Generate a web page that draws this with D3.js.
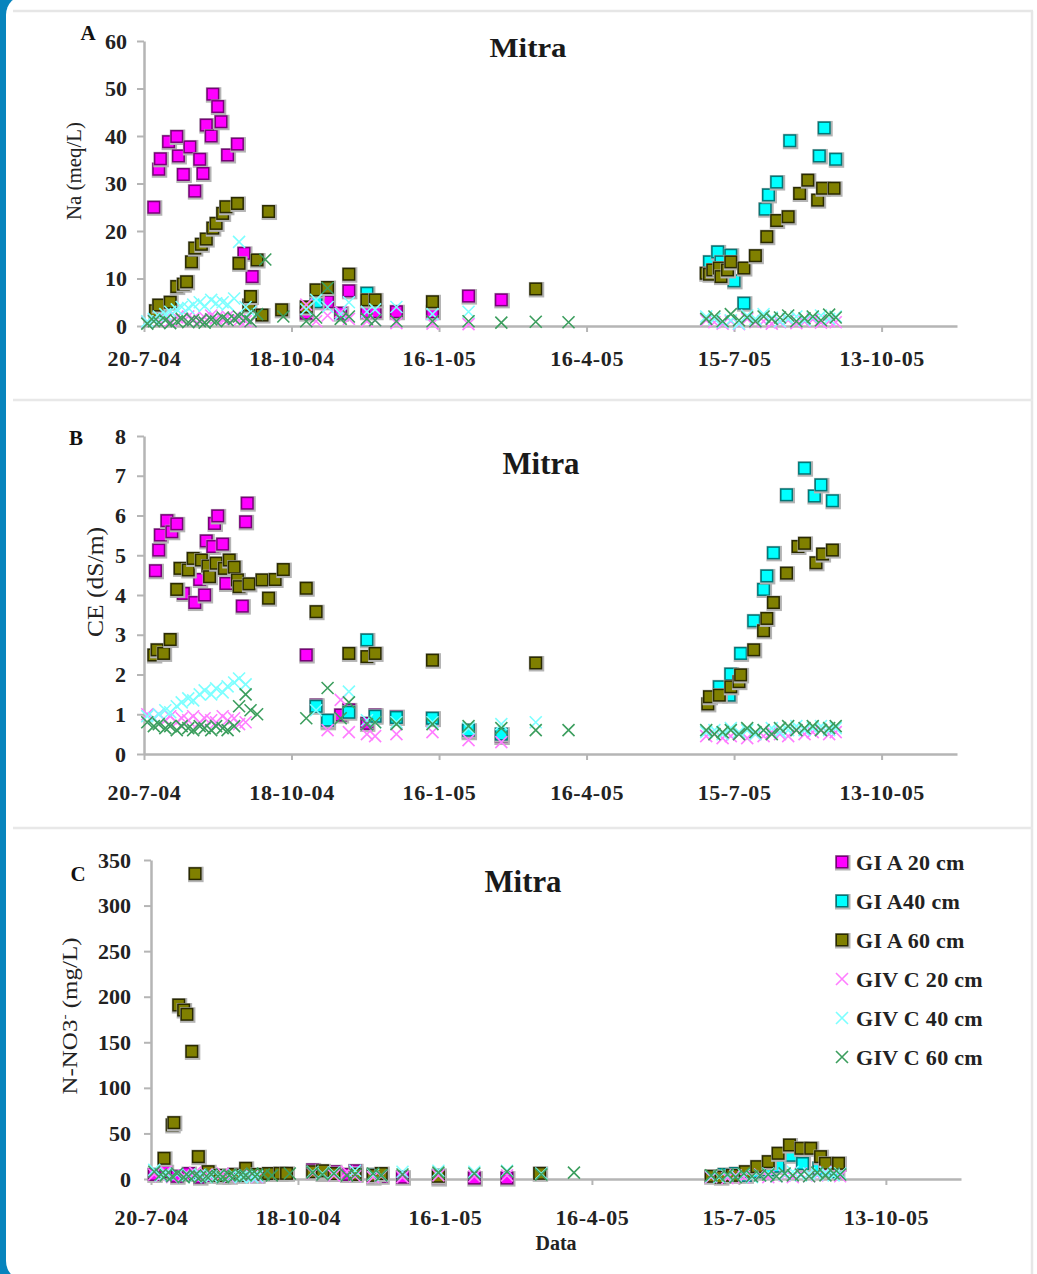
<!DOCTYPE html>
<html>
<head>
<meta charset="utf-8">
<script src="https://cdn.jsdelivr.net/npm/d3@7"></script>
<style>
body { margin: 0; background: #fff; }
svg text { font-family: "Liberation Serif", "Times New Roman", serif; }
</style>
</head>
<body>
<div id="chart"></div>
<script>
// Date axis tick labels (every 90 days) and the end of the axis
const dateTicks = ["20-7-04", "18-10-04", "16-1-05", "16-4-05", "15-7-05", "13-10-05"];
const dateEnd = "28-11-05";

const seriesNames = ["GI A 20 cm", "GI A40 cm", "GI A 60 cm", "GIV C 20 cm", "GIV C 40 cm", "GIV C 60 cm"];

// Sampling dates used by the GIV C (cross) series
const xDates = [
  "22-7-04","26-7-04","29-7-04","2-8-04","5-8-04","9-8-04","12-8-04","16-8-04","19-8-04","23-8-04","26-8-04",
  "30-8-04","2-9-04","6-9-04","9-9-04","13-9-04","16-9-04","20-9-04","23-9-04","27-9-04","2-10-04","13-10-04",
  "27-10-04","2-11-04","9-11-04","17-11-04","22-11-04","3-12-04","8-12-04","21-12-04","12-1-05","3-2-05","23-2-05","16-3-05","5-4-05",
  "28-6-05","3-7-05","8-7-05","13-7-05","18-7-05","23-7-05","28-7-05","2-8-05","7-8-05","12-8-05","17-8-05","22-8-05","27-8-05","1-9-05","6-9-05","11-9-05","15-9-05"
];

// ---- A: Na (meq/L)
const naGIA20 = [["26-7-04",25.0],["29-7-04",33.0],["30-7-04",35.2],["4-8-04",38.8],["9-8-04",39.9],["10-8-04",35.8],["13-8-04",31.9],["17-8-04",37.7],["20-8-04",28.4],["23-8-04",35.1],["25-8-04",32.1],["27-8-04",42.3],["30-8-04",40.0],["31-8-04",48.8],["3-9-04",46.2],["5-9-04",43.0],["9-9-04",36.0],["15-9-04",38.3],["19-9-04",15.3],["24-9-04",10.4],
  ["27-10-04",2.7],["9-11-04",5.1],["17-11-04",2.7],["22-11-04",7.4],["3-12-04",3.0],["8-12-04",3.0],["21-12-04",3.0],["12-1-05",3.0],["3-2-05",6.3],["23-2-05",5.5]];
const naGIA40 = [["2-11-04",5.1],["3-12-04",6.9],
  ["30-6-05",13.5],["5-7-05",15.6],["7-7-05",13.5],["13-7-05",14.9],["15-7-05",9.5],["21-7-05",4.8],["3-8-05",24.6],["5-8-05",27.6],["10-8-05",30.3],["18-8-05",39.0],["5-9-05",35.8],["8-9-05",41.7],["15-9-05",35.1]];
const naGIA60 = [["27-7-04",3.2],["29-7-04",4.4],["5-8-04",5.0],["9-8-04",8.3],["13-8-04",8.8],["15-8-04",9.3],["18-8-04",13.5],["20-8-04",16.4],["24-8-04",17.2],["27-8-04",18.3],["31-8-04",20.6],["2-9-04",21.6],["6-9-04",23.7],["8-9-04",25.1],["15-9-04",25.8],["16-9-04",13.2],["22-9-04",4.4],["23-9-04",6.2],["27-9-04",13.9],["30-9-04",2.3],["4-10-04",24.1],["12-10-04",3.4],
  ["27-10-04",4.0],["2-11-04",7.6],["9-11-04",8.1],["22-11-04",10.9],["3-12-04",5.5],["8-12-04",5.5],["12-1-05",5.1],["16-3-05",7.8],
  ["28-6-05",11.1],["30-6-05",10.9],["2-7-05",11.8],["6-7-05",12.2],["7-7-05",10.4],["11-7-05",11.8],["13-7-05",13.5],["21-7-05",12.2],["28-7-05",14.8],["4-8-05",18.8],["10-8-05",22.2],["17-8-05",23.0],["24-8-05",27.9],["29-8-05",30.7],["4-9-05",26.5],["7-9-05",29.0],["14-9-05",29.0]];
const naGIVC20 = [0.8,1.2,0.9,1.5,1.0,1.8,1.3,2.0,1.5,1.2,1.8,2.2,1.6,1.4,2.0,1.7,1.2,1.0,0.9,null,null,null,
  4.5,1.0,2.2,3.0,1.5,1.0,1.2,0.6,0.5,0.4,null,null,null,
  1.2,0.8,0.5,1.0,0.4,1.5,0.8,1.0,0.5,0.8,1.2,0.6,0.9,1.4,0.7,1.0,0.8];
const naGIVC40 = [1.0,1.5,2.0,2.5,3.0,3.5,4.0,3.8,4.5,5.0,4.2,5.5,4.8,5.0,4.5,5.8,17.7,4.0,3.0,null,null,null,
  3.5,5.5,4.0,2.5,5.0,3.0,3.5,4.0,2.5,3.0,null,null,null,
  2.0,1.5,0.8,1.2,0.5,2.2,1.5,2.5,1.8,1.0,1.5,2.0,1.2,1.8,2.2,1.5,2.0];
const naGIVC60 = [0.5,1.0,0.8,1.2,0.6,1.0,1.5,0.8,1.2,1.0,0.7,1.4,1.0,1.8,1.2,1.5,2.0,1.6,1.0,2.5,14.0,2.0,
  1.0,1.8,8.0,1.5,2.0,1.5,1.2,1.0,1.0,1.0,0.7,0.9,0.8,
  1.5,2.0,1.0,2.5,1.2,1.8,1.0,2.0,1.5,1.8,2.2,1.0,1.6,2.0,1.2,2.4,1.8];

// ---- B: CE (dS/m)
const ceGIA20 = [["27-7-04",4.61],["29-7-04",5.13],["30-7-04",5.51],["3-8-04",5.87],["6-8-04",5.59],["9-8-04",5.79],["13-8-04",4.04],["20-8-04",3.81],["23-8-04",4.39],["26-8-04",4.0],["27-8-04",5.36],["31-8-04",5.22],["1-9-04",5.8],["3-9-04",5.99],["6-9-04",5.28],["8-9-04",4.29],["18-9-04",3.72],["20-9-04",5.84],["21-9-04",6.31],
  ["27-10-04",2.49],["2-11-04",1.23],["9-11-04",0.81],["17-11-04",0.98],["22-11-04",1.11],["3-12-04",0.77],["8-12-04",0.98],["21-12-04",0.94],["12-1-05",0.89],["3-2-05",0.56],["23-2-05",0.44]];
const ceGIA40 = [["2-11-04",1.2],["9-11-04",0.85],["22-11-04",1.05],["3-12-04",2.87],["8-12-04",0.95],["21-12-04",0.92],["12-1-05",0.9],["3-2-05",0.6],["23-2-05",0.5],
  ["6-7-05",1.69],["12-7-05",1.48],["13-7-05",2.01],["19-7-05",2.53],["27-7-05",3.35],["2-8-05",4.14],["4-8-05",4.48],["8-8-05",5.06],["16-8-05",6.52],["27-8-05",7.19],["2-9-05",6.49],["6-9-05",6.77],["13-9-05",6.37]];
const ceGIA60 = [["26-7-04",2.49],["28-7-04",2.62],["1-8-04",2.53],["5-8-04",2.88],["9-8-04",4.14],["11-8-04",4.67],["16-8-04",4.63],["19-8-04",4.92],["24-8-04",4.88],["28-8-04",4.73],["29-8-04",4.46],["2-9-04",4.8],["7-9-04",4.67],["10-9-04",4.88],["13-9-04",4.7],["15-9-04",4.38],["16-9-04",4.21],["22-9-04",4.28],["30-9-04",4.38],["4-10-04",3.92],["8-10-04",4.39],["13-10-04",4.64],
  ["27-10-04",4.17],["2-11-04",3.58],["22-11-04",2.53],["3-12-04",2.45],["8-12-04",2.53],["12-1-05",2.36],["16-3-05",2.29],
  ["29-6-05",1.26],["30-6-05",1.44],["6-7-05",1.48],["13-7-05",1.69],["18-7-05",1.82],["19-7-05",1.99],["27-7-05",2.62],["2-8-05",3.1],["4-8-05",3.41],["8-8-05",3.81],["16-8-05",4.55],["23-8-05",5.22],["27-8-05",5.3],["3-9-05",4.81],["7-9-05",5.03],["13-9-05",5.13]];
const ceGIVC20 = [1.0,0.9,1.0,0.85,0.95,0.8,0.9,0.85,0.95,0.8,0.9,0.85,0.8,0.95,0.85,0.9,0.75,0.8,null,null,null,null,
  null,null,0.6,1.36,0.55,0.5,0.45,0.5,0.55,0.35,0.3,null,null,
  0.45,0.5,0.4,0.45,0.5,0.4,0.5,0.45,0.55,0.5,0.45,0.6,0.5,0.55,0.6,0.5,0.55];
const ceGIVC40 = [0.95,0.9,1.0,1.1,1.05,1.2,1.3,1.4,1.35,1.5,1.6,1.5,1.65,1.55,1.7,1.8,1.9,1.75,null,null,null,null,
  null,1.1,null,null,1.57,0.85,0.8,0.8,0.8,0.65,0.75,0.8,null,
  0.55,0.6,0.5,0.65,0.55,0.6,0.5,0.6,0.65,0.55,0.6,0.7,0.6,0.65,0.7,0.6,0.65];
const ceGIVC60 = [0.8,0.7,0.75,0.65,0.7,0.6,0.7,0.65,0.6,0.7,0.65,0.6,0.7,0.65,0.6,0.7,1.2,1.5,1.1,1.0,null,null,
  0.9,null,1.66,0.9,1.3,0.75,0.8,0.75,0.75,0.7,0.65,0.6,0.6,
  0.6,0.5,0.55,0.6,0.5,0.65,0.55,0.6,0.5,0.65,0.7,0.6,0.65,0.7,0.6,0.65,0.7];

// ---- C: N-NO3 (mg/L)
const noGIA20 = [["22-7-04",5],["29-7-04",8],["5-8-04",3],["12-8-04",6],["19-8-04",2],["26-8-04",4],["2-9-04",3],["9-9-04",5],["16-9-04",7],["23-9-04",4],
  ["27-10-04",10],["2-11-04",6],["9-11-04",8],["17-11-04",5],["22-11-04",9],["3-12-04",2],["8-12-04",3],["21-12-04",2],["12-1-05",1],["3-2-05",1],["23-2-05",1]];
const noGIA40 = [["2-11-04",8],["22-11-04",6],["3-12-04",5],["12-1-05",4],
  ["6-7-05",5],["13-7-05",6],["19-7-05",4],["27-7-05",8],["2-8-05",10],["8-8-05",14],["16-8-05",26],["23-8-05",17],["2-9-05",12],["6-9-05",10],["13-9-05",8]];
const noGIA60 = [["28-7-04",22.7],["2-8-04",59.3],["3-8-04",61.8],["6-8-04",190.9],["9-8-04",185.4],["11-8-04",180.7],["14-8-04",140],["16-8-04",335],["18-8-04",24.5],["24-8-04",8],["31-8-04",4],["6-9-04",3],["9-9-04",5],["13-9-04",4],["16-9-04",11.7],["23-9-04",5],["30-9-04",6],["7-10-04",6.2],["11-10-04",6.2],
  ["27-10-04",8],["2-11-04",9],["9-11-04",6],["22-11-04",5],["3-12-04",4],["8-12-04",6],["12-1-05",3],["15-3-05",6.2],
  ["28-6-05",3],["4-7-05",2],["11-7-05",4],["19-7-05",8],["26-7-05",13.5],["2-8-05",19],["8-8-05",28.2],["15-8-05",37.3],["22-8-05",33.7],["28-8-05",33.7],["3-9-05",24.5],["6-9-05",17.2],["14-9-05",17.2]];
const noGIVC20 = [5,3,8,2,6,4,3,7,2,5,3,4,6,2,3,5,4,3,2,null,null,null,
  6,null,4,8,3,2,3,2,4,3,4,null,null,
  2,3,1,4,2,3,5,2,3,4,2,6,3,4,8,5,3];
const noGIVC40 = [10,4,6,3,5,2,4,3,5,2,3,4,2,3,4,2,3,2,3,null,null,null,
  8,6,7,null,9,5,4,8,9,8,9,6,null,
  3,2,4,3,5,2,4,6,3,5,8,4,6,5,7,4,6];
const noGIVC60 = [8,5,4,3,6,2,3,4,2,3,5,3,2,4,3,5,4,6,5,5,4,6,
  7,5,6,4,5,6,4,5,7,6,8,5,7,
  4,3,5,2,6,3,4,5,3,6,4,5,3,7,4,6,5];

const parse = d3.timeParse("%d-%m-%y");

// marker look of each series, same order as seriesNames
const styles = [
  { type: "square", fill: "#ff00ff", stroke: "#7a007a" },
  { type: "square", fill: "#00ffff", stroke: "#007878" },
  { type: "square", fill: "#808000", stroke: "#2a2a00" },
  { type: "cross", stroke: "#ff7dff" },
  { type: "cross", stroke: "#7dffff" },
  { type: "cross", stroke: "#3c9e5e" }
];

const svg = d3.select("#chart").append("svg")
  .attr("width", 1037).attr("height", 1274);

// page frame: blue strip at left, white card with rounded corners
svg.append("rect").attr("x", 0).attr("y", 0).attr("width", 60).attr("height", 1274).attr("fill", "#0784bd");
svg.append("rect").attr("x", 6).attr("y", -5).attr("width", 1100).attr("height", 1286).attr("rx", 20).attr("fill", "#fff");
svg.append("line").attr("x1", 13).attr("x2", 1033).attr("y1", 11).attr("y2", 11).attr("stroke", "#e6e6e6").attr("stroke-width", 2.5);
svg.append("line").attr("x1", 1032).attr("x2", 1032).attr("y1", 11).attr("y2", 1274).attr("stroke", "#e6e6e6").attr("stroke-width", 2.5);
[400, 828].forEach(yy => {
  svg.append("line").attr("x1", 13).attr("x2", 1033).attr("y1", yy).attr("y2", yy).attr("stroke", "#e8e8e8").attr("stroke-width", 2.5);
});

function toPoints(pairs) {
  return pairs.map(p => ({ date: parse(p[0]), value: p[1] }));
}
function gridPoints(values) {
  return values.map((v, i) => ({ date: parse(xDates[i]), value: v })).filter(d => d.value != null);
}

const panels = [
  { letter: "A", lx: 88, ly: 40, series: [naGIA20, naGIA40, naGIA60, naGIVC20, naGIVC40, naGIVC60],
    yMax: 60, yStep: 10, left: 144, right: 957, bottom: 326, top: 41, labelPad: 18, yPad: 10,
    title: { x: 528, y: 57, size: 27 }, ylab: { text: "Na (meq/L)", x: 74, y: 171, len: 98, size: 20 } },
  { letter: "B", lx: 76, ly: 445, series: [ceGIA20, ceGIA40, ceGIA60, ceGIVC20, ceGIVC40, ceGIVC60],
    yMax: 8, yStep: 1, left: 144, right: 957, bottom: 754, top: 436, labelPad: 24, yPad: 11,
    title: { x: 541, y: 474, size: 32 }, ylab: { text: "CE (dS/m)", x: 95, y: 582, len: 110, size: 23 } },
  { letter: "C", lx: 78, ly: 881, series: [noGIA20, noGIA40, noGIA60, noGIVC20, noGIVC40, noGIVC60],
    yMax: 350, yStep: 50, left: 151, right: 961, bottom: 1179, top: 860, labelPad: 24, yPad: 13,
    title: { x: 523, y: 892, size: 32 }, ylab: { text: "N-NO3", x: 70, y: 1016, len: 157, size: 21 } }
];

function drawMarker(g, st, cx, cy) {
  if (st.type === "square") {
    const s = 13;
    g.append("rect").attr("x", cx - s / 2 - 0.5).attr("y", cy - s / 2 - 0.5)
      .attr("width", s + 2.5).attr("height", s + 2.5).attr("fill", "#b4b4b4");
    g.append("rect").attr("x", cx - s / 2 + 0.75).attr("y", cy - s / 2 + 0.75)
      .attr("width", s - 1.5).attr("height", s - 1.5)
      .attr("fill", st.fill).attr("stroke", st.stroke).attr("stroke-width", 1.5);
  } else {
    const h = 6;
    g.append("path")
      .attr("d", `M${cx - h},${cy - h}L${cx + h},${cy + h}M${cx - h},${cy + h}L${cx + h},${cy - h}`)
      .attr("stroke", st.stroke).attr("stroke-width", 1.6).attr("fill", "none");
  }
}

panels.forEach((p, pi) => {
  const x = d3.scaleTime().domain([parse(dateTicks[0]), parse(dateEnd)]).range([p.left, p.right]);
  const y = d3.scaleLinear().domain([0, p.yMax]).range([p.bottom, p.top]);
  const g = svg.append("g");

  // y axis
  const yAxis = d3.axisLeft(y)
    .tickValues(d3.range(0, p.yMax + p.yStep / 2, p.yStep))
    .tickFormat(d3.format("d"))
    .tickSize(7).tickSizeOuter(0).tickPadding(p.yPad);
  const ya = g.append("g").attr("transform", `translate(${p.left},0)`).call(yAxis);

  // x axis
  const xAxis = d3.axisBottom(x)
    .tickValues(dateTicks.map(parse))
    .tickFormat((d, i) => dateTicks[i])
    .tickSize(6).tickSizeOuter(0).tickPadding(p.labelPad);
  const xa = g.append("g").attr("transform", `translate(0,${y(0)})`).call(xAxis);

  [ya, xa].forEach(a => {
    a.select(".domain").attr("stroke", "#b5b5b5").attr("stroke-width", 2.5);
    a.selectAll(".tick line").attr("stroke", "#b5b5b5").attr("stroke-width", 2);
    a.selectAll("text").attr("fill", "#222").attr("font-size", 22).attr("font-weight", "bold")
      .attr("font-family", "'Liberation Serif', 'Times New Roman', serif");
  });
  xa.selectAll("text").attr("letter-spacing", 0.6);

  // points, Excel series order
  p.series.forEach((s, si) => {
    const pts = si < 3 ? toPoints(s) : gridPoints(s);
    const sg = g.append("g");
    pts.forEach(d => drawMarker(sg, styles[si], x(d.date), y(d.value)));
  });

  // panel letter
  g.append("text").attr("x", p.lx).attr("y", p.ly).attr("text-anchor", "middle")
    .attr("font-family", "'Liberation Sans', Arial, sans-serif").attr("font-weight", "bold")
    .attr("font-size", 21).attr("fill", "#111").text(p.letter);

  // title
  g.append("text").attr("x", p.title.x).attr("y", p.title.y).attr("text-anchor", "middle")
    .attr("font-size", p.title.size).attr("font-weight", "bold").attr("fill", "#1a1a1a")
    .attr("textLength", 77).attr("lengthAdjust", "spacingAndGlyphs").text("Mitra");

  // y axis title
  const yt = g.append("text")
    .attr("transform", `translate(${p.ylab.x},${p.ylab.y}) rotate(-90)`)
    .attr("dy", "0.35em").attr("text-anchor", "middle")
    .attr("font-size", p.ylab.size).attr("fill", "#222")
    .attr("textLength", p.ylab.len).attr("lengthAdjust", "spacingAndGlyphs");
  if (pi === 2) {
    yt.append("tspan").text("N-NO3");
    yt.append("tspan").attr("dy", -8).attr("font-size", 13).text("-");
    yt.append("tspan").attr("dy", 8).text(" (mg/L)");
  } else {
    yt.text(p.ylab.text);
  }

  if (pi === 2) {
    // x axis title
    g.append("text").attr("x", 556).attr("y", 1250).attr("text-anchor", "middle")
      .attr("font-size", 20).attr("font-weight", "bold").attr("fill", "#222").text("Data");

    // legend
    const lg = g.append("g");
    seriesNames.forEach((name, i) => {
      const cy = 862 + i * 39;
      drawMarker(lg, styles[i], 842, cy);
      lg.append("text").attr("x", 856).attr("y", cy + 8)
        .attr("font-size", 22).attr("font-weight", "bold").attr("fill", "#222")
        .attr("letter-spacing", 0.3).text(name);
    });
  }
});
</script>
</body>
</html>
